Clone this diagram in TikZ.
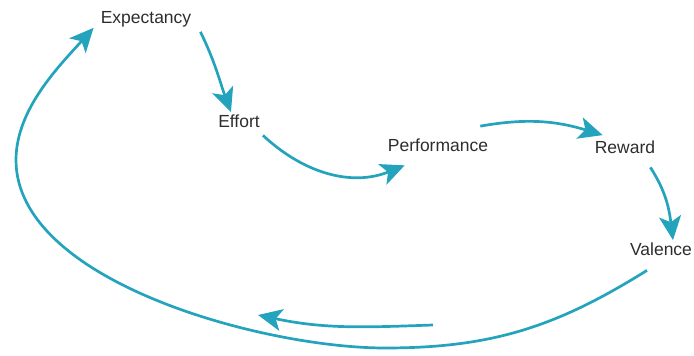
\documentclass[tikz,border=0pt]{standalone}
\usepackage{fontspec}
\setmainfont{Liberation Sans}
\usetikzlibrary{arrows.meta}
\definecolor{loopteal}{RGB}{36,163,188}
\definecolor{labelgray}{RGB}{45,45,45}
\tikzset{
  stage/.style={anchor=base, inner sep=3pt, text=labelgray,
    font=\fontsize{17.5}{20}\selectfont},
  flow/.style={draw=loopteal, line width=2.7pt,
    -{Stealth[length=24pt,width=22pt,inset=6pt]}},
}
\begin{document}
\begin{tikzpicture}[x=1pt,y=1pt]
      \useasboundingbox (0,0) rectangle (694,356);
      \node[stage] (exp) at (146,332) {Expectancy};
      \node[stage] (eff) at (239,228) {Effort};
      \node[stage] (perf) at (438,204) {Performance};
      \node[stage] (rew) at (625,202) {Reward};
      \node[stage] (val) at (661,100) {Valence};
      \coordinate (loopbot) at (385,8);
      \coordinate (loopleft) at (16,196);
      \coordinate (fbstart) at (433,31);
      \coordinate (fbend) at (258,41);
      \begin{scope}
        \draw[flow] ([shift={(6,-1)}]exp.south east) to[out=-64,in=110] (eff.130);
        \draw[flow] ([shift={(0,-4)}]eff.south east) to[out=-43,in=202] ([shift={(20,-10)}]perf.south west);
        \draw[flow] ([shift={(-11,10)}]perf.north east) to[out=10,in=163] ([shift={(11,3)}]rew.north west);
        \draw[flow] ([shift={(-8,-10)}]rew.south east) to[out=-57,in=97] ([shift={(12,0)}]val.north);
        \draw[flow] ([shift={(-14,-11)}]val.south) to[out=212,in=0] (loopbot)
          to[out=180,in=-90,looseness=0.75] (loopleft)
          to[out=90,in=228,looseness=0.85] ([shift={(-4,3)}]exp.south west);
        \draw[flow] (fbstart) to[out=182,in=-12] (fbend);
      \end{scope}
    \end{tikzpicture}
\end{document}
